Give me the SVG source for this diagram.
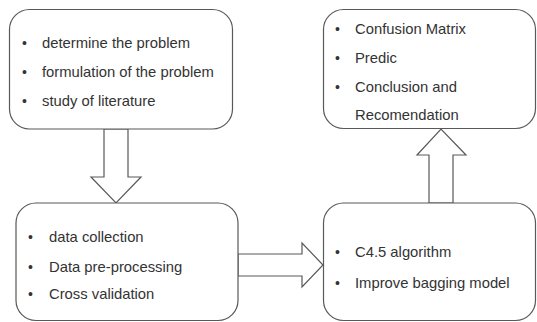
<svg xmlns="http://www.w3.org/2000/svg" width="537" height="322" viewBox="0 0 537 322">
<style>
.box{fill:#fff;stroke:#595959;stroke-width:1.2}
.arr{fill:#fff;stroke:#595959;stroke-width:1.2;stroke-linejoin:miter}
text{font-family:"Liberation Sans",Arial,sans-serif;font-size:14.8px;fill:#333}
.b{font-size:14px}
</style>
<rect width="537" height="322" fill="#fff"/>
<g id="connectors">
<path class="arr" d="M104,129 V177 H91 L116,203 L141,177 H128 V129 Z"/>
<path class="arr" d="M238,254 H302 V243 L323,265 L302,287 V276 H238 Z"/>
<path class="arr" d="M429,203 V155 H417 L441,129 L466,155 H453 V203 Z"/>
</g>
<g id="node1">
<rect class="box" x="9.5" y="9.5" width="223" height="119.5" rx="20"/>
<text class="b" x="22" y="48">•</text><text x="42" y="48">determine the problem</text>
<text class="b" x="22" y="77">•</text><text x="42" y="77">formulation of the problem</text>
<text class="b" x="22" y="106">•</text><text x="42" y="106">study of literature</text>
</g>
<g id="node2">
<rect class="box" x="16" y="203" width="222" height="117.5" rx="20"/>
<text class="b" x="28" y="242">•</text><text x="49" y="242">data collection</text>
<text class="b" x="28" y="272">•</text><text x="49" y="272">Data pre-processing</text>
<text class="b" x="28" y="299">•</text><text x="49" y="299">Cross validation</text>
</g>
<g id="node3">
<rect class="box" x="323.5" y="9.5" width="212" height="119" rx="20"/>
<text class="b" x="335" y="34">•</text><text x="355" y="34">Confusion Matrix</text>
<text class="b" x="335" y="63">•</text><text x="355" y="63">Predic</text>
<text class="b" x="335" y="92">•</text><text x="355" y="92">Conclusion and</text>
<text x="355" y="120">Recomendation</text>
</g>
<g id="node4">
<rect class="box" x="323.5" y="203" width="212" height="117.5" rx="20"/>
<text class="b" x="335" y="257">•</text><text x="355" y="257">C4.5 algorithm</text>
<text class="b" x="335" y="288">•</text><text x="355" y="288">Improve bagging model</text>
</g>
</svg>
